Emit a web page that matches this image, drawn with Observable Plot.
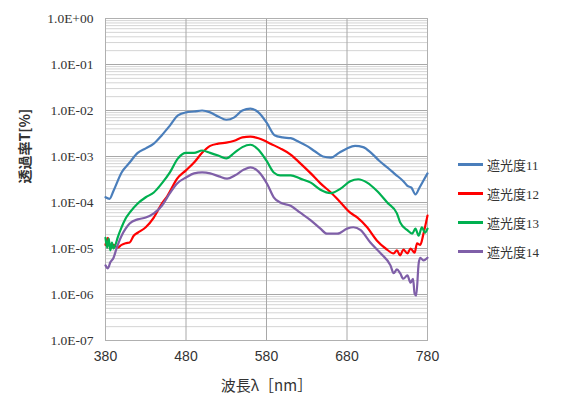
<!DOCTYPE html>
<html>
<head>
<meta charset="utf-8">
<script src="https://cdn.jsdelivr.net/npm/d3@7"></script>
<script src="https://cdn.jsdelivr.net/npm/@observablehq/plot@0.6"></script>
<style>
  html, body { margin: 0; padding: 0; background: #fff; }
  #wrap { position: relative; width: 563px; height: 394px; overflow: hidden; }
  #legend { position: absolute; left: 458px; top: 150px; font-family: "Liberation Serif", "Noto Sans CJK JP", serif; font-size: 13px; color: #333; }
  #legend .item { display: flex; align-items: center; height: 29px; }
  #legend .sw { width: 25px; height: 3px; margin-right: 4px; }
</style>
</head>
<body>
<div id="wrap"><div id="legend"></div></div>
<script>
// Spectral transmittance of four shading grades (log scale)
const seriesNames = ["遮光度11", "遮光度12", "遮光度13", "遮光度14"];
const seriesColors = ["#4a7ebb", "#ff0000", "#00b050", "#7f5fa8"];

const wl11 = [380,385,390,400,410,420,430,440,450,460,470,480,490,500,510,520,530,540,550,560,570,580,590,600,610,620,630,640,650,660,670,680,690,700,710,720,730,740,750,755,760,765,770,775,780];
const t11 = [1.3e-4,1.2e-4,1.8e-4,4.5e-4,7.4e-4,1.2e-3,1.5e-3,1.9e-3,2.9e-3,4.7e-3,7.8e-3,9.1e-3,9.5e-3,1.0e-2,9.1e-3,7.4e-3,6.3e-3,7.1e-3,1.0e-2,1.1e-2,9.1e-3,5.5e-3,2.9e-3,2.6e-3,2.5e-3,2.1e-3,1.7e-3,1.3e-3,1.0e-3,9.5e-4,1.2e-3,1.5e-3,1.7e-3,1.6e-3,1.2e-3,8.1e-4,5.8e-4,4.1e-4,2.9e-4,2.3e-4,2.1e-4,1.5e-4,2.1e-4,3.0e-4,4.3e-4];

const wl12 = [380,383,386,390,395,400,405,410,415,420,430,440,450,457,469,480,490,500,510,520,530,540,550,560,570,580,585,597,610,622,635,647,660,672,684,693,705,717,728,738,742,746,750,755,759,764,767,771,775,780];
const t12 = [1.2e-5,1.7e-5,1.0e-5,1.2e-5,1.05e-5,1.2e-5,1.3e-5,1.35e-5,1.9e-5,2.2e-5,2.9e-5,4.7e-5,9.5e-5,1.4e-4,3.3e-4,5.0e-4,7.4e-4,1.2e-3,1.7e-3,1.9e-3,2.0e-3,2.2e-3,2.6e-3,2.7e-3,2.5e-3,2.1e-3,1.9e-3,1.5e-3,1.1e-3,7.1e-4,4.3e-4,2.6e-4,1.65e-4,1.0e-4,6.0e-5,4.7e-5,2.9e-5,1.5e-5,1.0e-5,7.8e-6,9.1e-6,7.1e-6,9.5e-6,7.8e-6,1.0e-5,8.1e-6,1.3e-5,1.2e-5,2.1e-5,5.2e-5];

const wl13 = [380,382,384,386,388,390,393,395,400,405,410,420,430,440,450,460,470,480,490,500,510,520,530,540,550,560,570,580,589,597,610,622,635,647,660,672,684,694,705,717,730,742,746,755,761,765,769,773,777,780];
const t13 = [1.7e-5,1.05e-5,1.65e-5,9.1e-6,1.35e-5,1.0e-5,1.3e-5,1.7e-5,2.9e-5,4.5e-5,6.0e-5,9.5e-5,1.3e-4,1.65e-4,2.6e-4,4.5e-4,9.1e-4,1.2e-3,1.2e-3,1.35e-3,1.2e-3,1.05e-3,9.1e-4,1.2e-3,1.6e-3,1.8e-3,1.4e-3,8.1e-4,4.5e-4,3.9e-4,3.9e-4,3.3e-4,2.7e-4,1.9e-4,1.6e-4,2.0e-4,2.9e-4,3.2e-4,2.7e-4,1.8e-4,1.0e-4,5.8e-5,3.7e-5,2.5e-5,2.1e-5,2.7e-5,1.9e-5,2.9e-5,2.2e-5,2.7e-5];

const wl14 = [380,383,386,390,393,396,400,405,410,420,430,440,450,460,469,480,490,500,510,521,531,541,552,560,570,581,589,597,610,622,635,647,655,668,680,688,697,709,722,734,738,742,746,750,755,759,762,764,766,769,771,775,780];
const t14 = [4.3e-6,3.7e-6,5.0e-6,6.3e-6,9.1e-6,1.3e-5,1.9e-5,2.7e-5,3.5e-5,4.3e-5,4.7e-5,5.8e-5,8.5e-5,1.6e-4,2.6e-4,3.5e-4,4.3e-4,4.5e-4,4.3e-4,3.7e-4,3.3e-4,3.9e-4,5.2e-4,5.8e-4,4.7e-4,2.5e-4,1.3e-4,1.0e-4,8.5e-5,6.0e-5,4.1e-5,2.7e-5,2.1e-5,2.1e-5,2.7e-5,2.9e-5,2.5e-5,1.35e-5,7.8e-6,4.3e-6,2.9e-6,3.5e-6,2.9e-6,2.2e-6,2.6e-6,1.8e-6,2.2e-6,1.05e-6,9.5e-7,4.7e-6,6.3e-6,5.5e-6,6.3e-6];

// Axis ticks
const xTicks = [380, 480, 580, 680, 780];
const yTicks = [1, 1e-1, 1e-2, 1e-3, 1e-4, 1e-5, 1e-6, 1e-7];
const yTickLabels = ["1.0E+00", "1.0E-01", "1.0E-02", "1.0E-03", "1.0E-04", "1.0E-05", "1.0E-06", "1.0E-07"];
const minorMultipliers = [2, 3, 4, 5, 6, 7, 8, 9];

const rows = [];
[[wl11, t11], [wl12, t12], [wl13, t13], [wl14, t14]].forEach(([w, t], i) => {
  w.forEach((x, j) => rows.push({series: seriesNames[i], wl: x, t: t[j]}));
});

const minorLines = [];
yTicks.slice(1).forEach(d => minorMultipliers.forEach(k => minorLines.push(k * d)));

const serif = "'Liberation Serif', 'Noto Sans CJK JP', serif";
const yLabel = v => yTickLabels[yTicks.findIndex(t => Math.abs(Math.log10(t) - Math.log10(v)) < 1e-6)];

const chart = Plot.plot({
  width: 563,
  height: 394,
  marginLeft: 105,
  marginRight: 136,
  marginTop: 18,
  marginBottom: 54,
  style: {fontFamily: serif, fontSize: "13.5px", color: "#333", background: "#fff"},
  x: {domain: [380, 780], label: null},
  y: {type: "log", domain: [1e-7, 1], label: null},
  color: {domain: seriesNames, range: seriesColors},
  marks: [
    Plot.ruleY(minorLines, {stroke: "#d4d4d4", strokeWidth: 1}),
    Plot.ruleY(yTicks, {stroke: "#a8a8a8", strokeWidth: 1}),
    Plot.ruleX(xTicks.slice(1, -1), {stroke: "#a8a8a8", strokeWidth: 1}),
    Plot.frame({stroke: "#b0b0b0"}),
    Plot.axisX({ticks: xTicks, tickSize: 0, tickPadding: 11, fontFamily: "'Liberation Sans', sans-serif", fontSize: 14, label: null}),
    Plot.axisY({ticks: yTicks, tickSize: 0, tickPadding: 12, tickFormat: yLabel, label: null}),
    Plot.line(rows, {x: "wl", y: "t", z: "series", stroke: "series", strokeWidth: 2.2, curve: "monotone-x"}),
    Plot.text(["透過率T[%]"], {frameAnchor: "left", dx: -80, dy: 4, rotate: -90, fontSize: 14, fontWeight: "bold", fontFamily: "'Noto Sans CJK JP', sans-serif", fill: "#333"}),
    Plot.text(["波長λ［nm］"], {frameAnchor: "bottom", dy: 50, fontSize: 15, fontFamily: "'Noto Sans CJK JP', sans-serif", fill: "#333"})
  ]
});

const wrap = document.getElementById("wrap");
wrap.insertBefore(chart, wrap.firstChild);

// Legend to the right of the plot area
const legend = document.getElementById("legend");
seriesNames.forEach((name, i) => {
  const item = document.createElement("div");
  item.className = "item";
  const sw = document.createElement("span");
  sw.className = "sw";
  sw.style.background = seriesColors[i];
  const label = document.createElement("span");
  label.textContent = name;
  item.appendChild(sw);
  item.appendChild(label);
  legend.appendChild(item);
});
</script>
</body>
</html>
